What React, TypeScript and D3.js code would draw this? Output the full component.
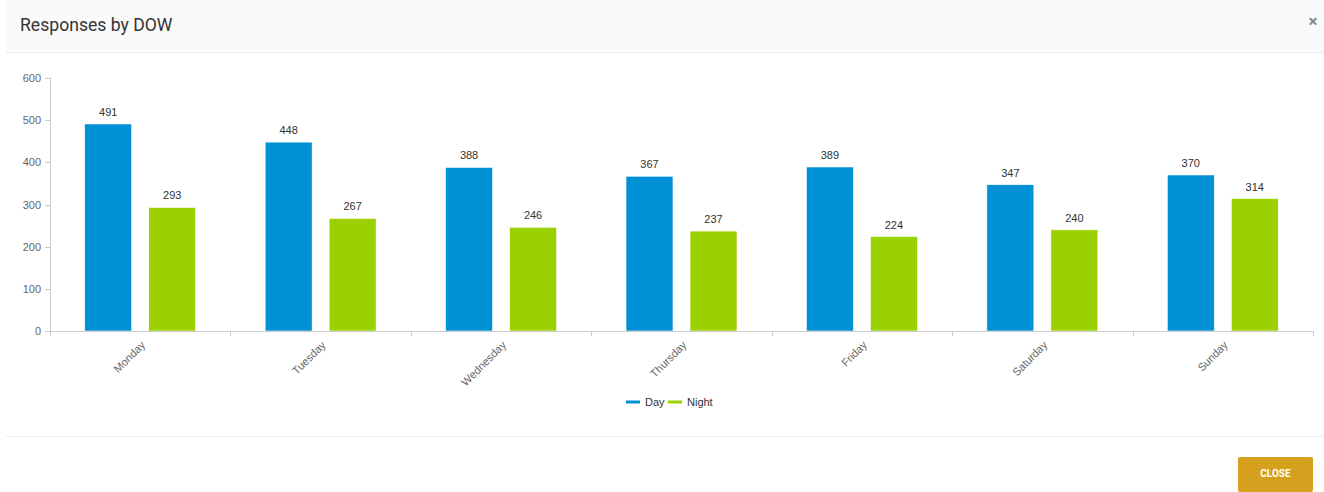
import React from "react";
import * as d3 from "d3";

const categories = ["Monday", "Tuesday", "Wednesday", "Thursday", "Friday", "Saturday", "Sunday"];
const seriesNames = ["Day", "Night"];
const dayValues = [491, 448, 388, 367, 389, 347, 370];
const nightValues = [293, 267, 246, 237, 224, 240, 314];
const seriesColors = ["#0090d5", "#9bd100"];
const yTicks = [0, 100, 200, 300, 400, 500, 600];

const W = 1324;
const H = 492;
const plotLeft = 50;
const plotRight = 1313;
const plotTop = 78;
const plotBottom = 331;
const chartFont = "'Liberation Sans', Arial, sans-serif";

export default function App() {
  const x0 = d3.scaleBand<string>().domain(categories).range([plotLeft, plotRight]).paddingInner(0).paddingOuter(0);
  const x1 = d3
    .scaleBand<string>()
    .domain(seriesNames)
    .range([0, x0.bandwidth()])
    .paddingInner(0.266)
    .paddingOuter(0.5425);
  const y = d3.scaleLinear().domain([0, 600]).range([plotBottom, plotTop]);
  const series = [dayValues, nightValues];

  const dividers = categories.map((c) => x0(c)!).concat([plotRight]);

  return (
    <svg width={W} height={H} style={{ position: "absolute", left: 0, top: 0, background: "#fff" }}>
      {/* header */}
      <rect x={6} y={0} width={W - 6} height={52} fill="#fafafa" />
      <line x1={6} x2={W} y1={52.5} y2={52.5} stroke="#ececec" />
      <text x={20} y={31} fontFamily="Roboto, sans-serif" fontSize={17.6} fill="#333">
        Responses by DOW
      </text>
      <text x={1313} y={27} fontFamily="Roboto, sans-serif" fontSize={17} fontWeight={700} fill="#888" textAnchor="middle">
        ×
      </text>

      {/* y axis */}
      <line x1={plotLeft + 0.5} x2={plotLeft + 0.5} y1={plotTop} y2={plotBottom} stroke="#ccc" />
      {yTicks.map((t) => (
        <g key={t}>
          <line x1={plotLeft - 5} x2={plotLeft} y1={Math.round(y(t)) + 0.5} y2={Math.round(y(t)) + 0.5} stroke="#ccc" />
          <text x={41} y={y(t) + 4} textAnchor="end" fontFamily={chartFont} fontSize={11} fill="#666">
            {t}
          </text>
        </g>
      ))}

      {/* bars */}
      {categories.map((c, i) => (
        <g key={c} transform={`translate(${x0(c)},0)`}>
          {seriesNames.map((s, j) => {
            const v = series[j][i];
            const bx = x1(s)!;
            const by = y(v);
            return (
              <g key={s}>
                <rect x={bx} y={by} width={x1.bandwidth()} height={plotBottom - by} fill={seriesColors[j]} stroke="#fff" strokeWidth={0.6} />
                <text
                  x={bx + x1.bandwidth() / 2}
                  y={by - 8}
                  textAnchor="middle"
                  fontFamily={chartFont}
                  fontSize={11}
                  fill="#333"
                >
                  {v}
                </text>
              </g>
            );
          })}
        </g>
      ))}

      {/* x axis */}
      <line x1={plotLeft} x2={plotRight} y1={plotBottom + 0.5} y2={plotBottom + 0.5} stroke="#ccc" />
      {dividers.map((d, i) => (
        <line key={i} x1={Math.round(d) + 0.5} x2={Math.round(d) + 0.5} y1={plotBottom} y2={plotBottom + 5} stroke="#ccc" />
      ))}
      {categories.map((c) => {
        const cx = x0(c)! + x0.bandwidth() / 2 + 3;
        const cy = plotBottom + 12;
        return (
          <text
            key={c}
            transform={`translate(${cx},${cy}) rotate(-45)`}
            textAnchor="end"
            dy="0.35em"
            fontFamily={chartFont}
            fontSize={11}
            fill="#666"
          >
            {c}
          </text>
        );
      })}

      {/* legend */}
      <g fontFamily={chartFont} fontSize={11} fill="#333">
        <line x1={626} x2={640} y1={402} y2={402} stroke={seriesColors[0]} strokeWidth={3} />
        <text x={645} y={406}>Day</text>
        <line x1={668} x2={682} y1={402} y2={402} stroke={seriesColors[1]} strokeWidth={3} />
        <text x={687} y={406}>Night</text>
      </g>

      {/* footer */}
      <line x1={6} x2={W} y1={436.5} y2={436.5} stroke="#ececec" />
      <rect x={1238} y={457} width={75} height={35} rx={2} fill="#d4a01e" />
      <text x={1275.5} y={477} textAnchor="middle" fontFamily="Roboto, sans-serif" fontSize={10} fontWeight={700} fill="#fff">
        CLOSE
      </text>
    </svg>
  );
}
